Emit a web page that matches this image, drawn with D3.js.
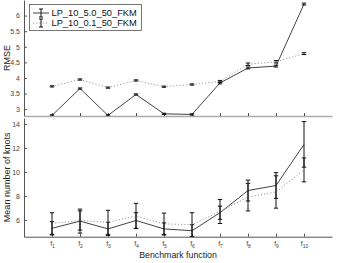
<!DOCTYPE html>
<html>
<head>
<meta charset="utf-8">
<script src="https://cdn.jsdelivr.net/npm/d3@7"></script>
<style>
  body { margin: 0; background: #fff; }
  svg { display: block; font-family: "Liberation Sans", Arial, sans-serif; }
</style>
</head>
<body>
<svg width="350" height="263"></svg>
<script>
const svg = d3.select("svg");

// benchmark functions f1..f10
const funcs = [1, 2, 3, 4, 5, 6, 7, 8, 9, 10];
const seriesNames = ["LP_10_5.0_50_FKM", "LP_10_0.1_50_FKM"];

// RMSE (top panel)
const rmseA = [2.80, 3.66, 2.80, 3.47, 2.85, 2.83, 3.84, 4.32, 4.38, 6.37];
const rmseAErr = [0.02, 0.02, 0.02, 0.02, 0.02, 0.02, 0.03, 0.03, 0.03, 0.03];
const rmseB = [3.73, 3.95, 3.69, 3.92, 3.72, 3.79, 3.89, 4.44, 4.52, 4.78];
const rmseBErr = [0.02, 0.02, 0.02, 0.02, 0.02, 0.02, 0.03, 0.04, 0.04, 0.03];

// mean number of knots (bottom panel)
const knotsA = [5.3, 5.9, 5.25, 5.95, 5.25, 5.1, 6.6, 8.45, 8.87, 12.3];
const knotsAErr = [0.55, 1.0, 0.55, 0.65, 0.5, 0.5, 0.55, 0.87, 1.07, 1.9];
const knotsB = [5.7, 5.95, 5.8, 6.33, 5.67, 5.6, 6.7, 7.9, 8.33, 10.17];
const knotsBErr = [0.9, 0.8, 1.0, 1.05, 0.9, 1.0, 1.0, 1.15, 1.35, 1.0];

const rmseTicks = [3, 3.5, 4, 4.5, 5, 5.5, 6];
const knotTicks = [6, 8, 10, 12, 14];

const x = d3.scaleLinear().domain([0, 11]).range([24, 332]);
const yTop = d3.scaleLinear().domain([2.78, 6.5]).range([116, 0]);
const yBot = d3.scaleLinear().domain([4.6, 14.5]).range([236.7, 118]);

const styles = [
  { stroke: "#444", dash: null },
  { stroke: "#999", dash: "1.2,2" }
];

function panel(id, y, yTicks, fmt, series, showLabels) {
  const g = svg.append("g");
  const [y0, y1] = y.range();

  svg.append("clipPath").attr("id", id)
    .append("rect").attr("x", x(0)).attr("y", y1)
    .attr("width", x(11) - x(0)).attr("height", y0 - y1);

  // y axis
  const ya = g.append("g")
    .attr("transform", `translate(${x(0)},0)`)
    .call(d3.axisLeft(y).tickValues(yTicks).tickFormat(fmt).tickSize(-3).tickSizeOuter(0).tickPadding(4));
  ya.select(".domain").attr("stroke", "#555");
  ya.selectAll(".tick line").attr("stroke", "#555");
  ya.selectAll("text").attr("fill", "#444").attr("font-size", 7);

  // x axis
  const xa = g.append("g")
    .attr("transform", `translate(0,${y0})`)
    .call(d3.axisBottom(x).tickValues(funcs).tickFormat("").tickSize(-3).tickSizeOuter(0));
  xa.select(".domain").attr("stroke", showLabels ? "#555" : "#aaa")
    .attr("stroke-width", showLabels ? 1 : 1.6);
  xa.selectAll(".tick line").attr("stroke", "#555");
  xa.selectAll(".tick text").remove();
  if (showLabels) {
    const t = xa.selectAll(".tick").append("text")
      .attr("y", 9).attr("fill", "#444").attr("font-size", 7)
      .attr("text-anchor", "middle");
    t.append("tspan").text("f");
    t.append("tspan").attr("dy", 2).attr("font-size", 5).text(d => d);
  }

  const plot = g.append("g").attr("clip-path", `url(#${id})`);
  series.forEach((s, i) => {
    const pts = funcs.map((f, j) => ({ f, v: s.vals[j], e: s.errs[j] }));
    plot.append("path")
      .attr("fill", "none")
      .attr("stroke", styles[i].stroke)
      .attr("stroke-width", 1)
      .attr("stroke-dasharray", styles[i].dash)
      .attr("d", d3.line().x(d => x(d.f)).y(d => y(d.v))(pts));

    const eb = plot.append("g").selectAll("g").data(pts).join("g")
      .attr("stroke", "#111").attr("stroke-width", 1);
    eb.append("line")
      .attr("x1", d => x(d.f)).attr("x2", d => x(d.f))
      .attr("y1", d => y(d.v - d.e)).attr("y2", d => y(d.v + d.e));
    [-1, 1].forEach(sg => {
      eb.append("line")
        .attr("x1", d => x(d.f) - 2.2).attr("x2", d => x(d.f) + 2.2)
        .attr("y1", d => y(d.v + sg * d.e)).attr("y2", d => y(d.v + sg * d.e));
    });
  });
}

panel("clipTop", yTop, rmseTicks, d3.format("~g"), [
  { vals: rmseA, errs: rmseAErr },
  { vals: rmseB, errs: rmseBErr }
], false);

panel("clipBot", yBot, knotTicks, d3.format("d"), [
  { vals: knotsA, errs: knotsAErr },
  { vals: knotsB, errs: knotsBErr }
], true);

// axis titles
svg.append("text")
  .attr("transform", `translate(10,${(yTop(2.78) + yTop(6.5)) / 2}) rotate(-90)`)
  .attr("text-anchor", "middle").attr("font-size", 9).attr("fill", "#222")
  .text("RMSE");
svg.append("text")
  .attr("transform", `translate(10,${(yBot(4.6) + yBot(14.5)) / 2}) rotate(-90)`)
  .attr("text-anchor", "middle").attr("font-size", 9).attr("fill", "#222")
  .text("Mean number of knots");
svg.append("text")
  .attr("x", (x(0) + x(11)) / 2).attr("y", 258)
  .attr("text-anchor", "middle").attr("font-size", 8.8).attr("fill", "#222")
  .text("Benchmark function");

// legend
const leg = svg.append("g");
leg.append("rect")
  .attr("x", 29.5).attr("y", 4.5).attr("width", 112).attr("height", 26)
  .attr("fill", "#fff").attr("stroke", "#555").attr("stroke-width", 0.8);
seriesNames.forEach((name, i) => {
  const cy = 13 + i * 10;
  const row = leg.append("g");
  row.append("line")
    .attr("x1", 33).attr("x2", 49).attr("y1", cy).attr("y2", cy)
    .attr("stroke", styles[i].stroke).attr("stroke-dasharray", styles[i].dash);
  row.append("line")
    .attr("x1", 41).attr("x2", 41).attr("y1", cy - 4).attr("y2", cy + 4)
    .attr("stroke", "#111");
  [-4, 4].forEach(o => row.append("line")
    .attr("x1", 39).attr("x2", 43).attr("y1", cy + o).attr("y2", cy + o)
    .attr("stroke", "#111"));
  row.append("text")
    .attr("x", 51.5).attr("y", cy + 3.3)
    .attr("font-size", 9.3).attr("fill", "#111")
    .text(name);
});
</script>
</body>
</html>
